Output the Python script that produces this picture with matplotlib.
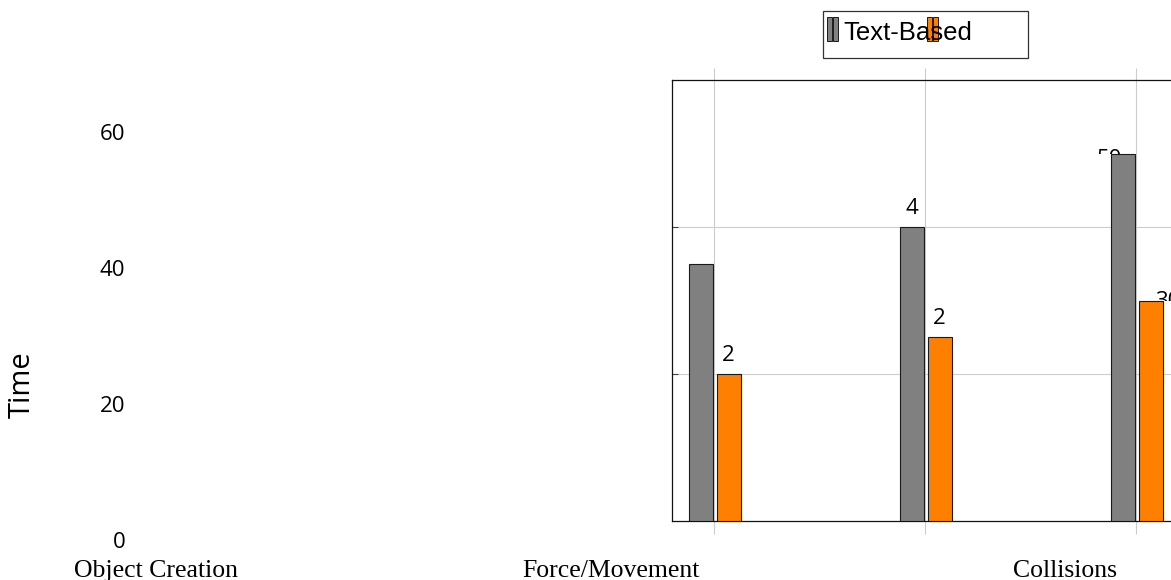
"""Grouped bar chart: time per task, text-based vs the second interface."""

import matplotlib

matplotlib.use("Agg")
import matplotlib.pyplot as plt
import numpy as np
from matplotlib.patches import Rectangle

W, H, DPI = 1171, 580, 100

categories = ["Object Creation", "Force/Movement", "Collisions"]
text_based = [35, 40, 50]
other = [20, 25, 30]
text_based_labels = ["", "4", "50"]
other_labels = ["2", "2", "30"]
y_ticks = [0, 20, 40, 60]

GRAY = "#808080"
ORANGE = "#ff8000"
EDGE = "#1a1a1a"
GRID = "#cccccc"
SANS = "Open Sans"
SERIF = "Liberation Serif"


def px_box(x0, y0, x1, y1):
    """Figure-fraction [left, bottom, width, height] from pixel corners (y down)."""
    return [x0 / W, (H - y1) / H, (x1 - x0) / W, (y1 - y0) / H]


fig = plt.figure(figsize=(W / DPI, H / DPI), dpi=DPI)

# ---- main plotting area (runs off the right edge) ----
ax = fig.add_axes(px_box(672, 80, 1300, 521))
x = np.arange(len(categories))
width = 0.115
off_tb, off_ot = -0.065, 0.067
ax.bar(x + off_tb, text_based, width, color=GRAY, edgecolor=EDGE, linewidth=0.8, zorder=3)
ax.bar(x + off_ot, other, width, color=ORANGE, edgecolor=EDGE, linewidth=0.8, zorder=3)
ax.set_xlim(-0.2014, (1300 - 714.5) / 211)
ax.set_ylim(0, 60)
ax.set_xticks(x)
ax.set_xticklabels([])
ax.set_yticks([20, 40])
ax.set_yticklabels([])
ax.tick_params(axis="x", direction="out", length=9, width=0.8, color=GRID, top=True, bottom=True)
ax.tick_params(axis="y", direction="in", length=4, width=0.8, color="#444444")
ax.grid(True, color=GRID, linewidth=0.8, zorder=0)
ax.set_axisbelow(True)
for side in ("top", "bottom", "left", "right"):
    ax.spines[side].set_linewidth(0.9)
    ax.spines[side].set_color("#111111")


def above_bar(xc, v):
    # clip region: everything above the bar top in that bar's column
    return Rectangle((xc - 0.5, v), 1.0, 100 - v, transform=ax.transData)


# value labels; first two groups sit above the bars, last group tucks behind
for i, (vb, vo, lb, lo) in enumerate(zip(text_based, other, text_based_labels, other_labels)):
    if i < 2:
        if lb:
            ax.annotate(lb, (i + off_tb, vb), xytext=(0, 6), textcoords="offset points",
                        ha="center", va="bottom", fontsize=16, family=SANS, zorder=4)
        if lo:
            ax.annotate(lo, (i + off_ot, vo), xytext=(0, 6), textcoords="offset points",
                        ha="center", va="bottom", fontsize=16, family=SANS, zorder=4)
    else:
        t1 = ax.annotate(lb, (i + off_tb, vb), xytext=(-9.7, 3.5), textcoords="offset points",
                         ha="center", va="top", fontsize=16, family=SANS, zorder=2)
        t1.set_clip_path(above_bar(i + off_tb, vb))
        t2 = ax.annotate(lo, (i + off_ot, vo), xytext=(12, 6.5), textcoords="offset points",
                         ha="center", va="top", fontsize=16, family=SANS, zorder=2,
                         annotation_clip=False)
        t2.set_clip_path(above_bar(i + off_ot, vo))

# ---- y tick labels, drawn on their own strip at the far left ----
ay = fig.add_axes(px_box(128, 132, 129, 540))
ay.set_ylim(0, 60)
ay.set_yticks(y_ticks)
ay.set_yticklabels([str(t) for t in y_ticks], fontsize=16, family=SANS)
ay.tick_params(axis="y", length=0, pad=2)
ay.set_xticks([])
for s in ay.spines.values():
    s.set_visible(False)
ay.patch.set_visible(False)

# ---- category labels along the bottom ----
axl = fig.add_axes(px_box(156, 556, 1065, 557))
axl.set_xlim(0, len(categories) - 1)
axl.set_xticks(x)
axl.set_xticklabels(categories, fontsize=18.5, family=SERIF)
axl.tick_params(axis="x", length=0, pad=2)
axl.set_yticks([])
for s in axl.spines.values():
    s.set_visible(False)
axl.patch.set_visible(False)

fig.text(22 / W, 1 - 385 / H, "Time", rotation=90, ha="center", va="center",
         fontsize=21, family=SANS)

# ---- legend box ----
tf = fig.transFigure


def fig_rect(x0, y0, x1, y1, **kw):
    l, b, w, h = px_box(x0, y0, x1, y1)
    fig.add_artist(Rectangle((l, b), w, h, transform=tf, **kw))


fig_rect(823, 11, 1028, 58, facecolor="white", edgecolor="#333333", linewidth=0.9)
fig.text(843 / W, 1 - 40 / H, "Text-Based", ha="left", va="baseline",
         fontsize=18.5, family="Liberation Sans")
for x0 in (827, 833):
    fig_rect(x0, 17, x0 + 5, 41, facecolor=GRAY, edgecolor=EDGE, linewidth=0.7)
for x0 in (927, 933):
    fig_rect(x0, 17, x0 + 5, 41, facecolor=ORANGE, edgecolor=EDGE, linewidth=0.7)

fig.savefig("out.png", dpi=DPI)
